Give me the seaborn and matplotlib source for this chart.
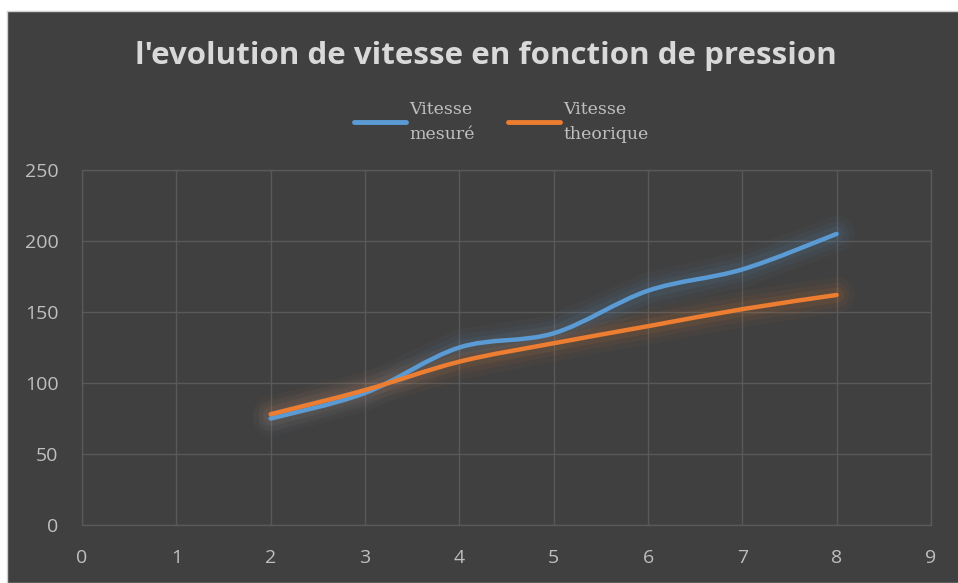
import numpy as np
import pandas as pd
import seaborn as sns
import matplotlib.pyplot as plt
from matplotlib.path import Path
from matplotlib.patches import PathPatch, Rectangle
from matplotlib.lines import Line2D

# donnees
pression = [2, 3, 4, 5, 6, 7, 8]
vitesse_mesure = [75, 93, 125, 135, 165, 180, 205]
vitesse_theorique = [78, 95, 115, 128, 140, 152, 162]

titre = "l'evolution de vitesse en fonction de pression"
noms = ["Vitesse\nmesuré", "Vitesse\ntheorique"]
couleurs = ["#5b9bd5", "#ed7d31"]

bg = "#404040"
grid_c = "#595959"
txt_c = "#bfbfbf"

sns.set_theme(style="dark")
plt.rcParams['font.family'] = ['Open Sans', 'DejaVu Sans']


def smooth_path(x, y):
    # courbe lissee facon Excel (bezier cubique, tension 1/6)
    pts = np.column_stack([x, y]).astype(float)
    n = len(pts)
    verts = [pts[0]]
    codes = [Path.MOVETO]
    for i in range(n - 1):
        p0 = pts[i - 1] if i > 0 else pts[i]
        p1 = pts[i]
        p2 = pts[i + 1]
        p3 = pts[i + 2] if i + 2 < n else pts[i + 1]
        c1 = p1 + (p2 - p0) / 6.0
        c2 = p2 - (p3 - p1) / 6.0
        verts += [c1, c2, p2]
        codes += [Path.CURVE4] * 3
    return Path(verts, codes)


df = pd.DataFrame({"pression": pression,
                   noms[0]: vitesse_mesure,
                   noms[1]: vitesse_theorique})

fig = plt.figure(figsize=(9.58, 5.83), dpi=100)
fig.patch.set_facecolor("white")
fig.patches.append(Rectangle((7 / 958, 0), 1, 1 - 11 / 583, transform=fig.transFigure,
                             facecolor=bg, edgecolor="#d0d0d0", linewidth=1, zorder=-1))

ax = fig.add_axes([82 / 958, 1 - 525 / 583, (931 - 82) / 958, (525 - 170) / 583])
ax.set_facecolor(bg)

for nom, c in zip(noms, couleurs):
    # halo
    for lw, a in [(26, 0.04), (18, 0.06), (11, 0.08)]:
        sns.lineplot(data=df, x="pression", y=nom, ax=ax, color=c, linewidth=lw,
                     alpha=a, solid_capstyle="round", legend=False)
    ax.add_patch(PathPatch(smooth_path(df["pression"], df[nom]), facecolor="none",
                           edgecolor=c, linewidth=3.2, capstyle="round", zorder=5))

ax.set_xlim(0, 9)
ax.set_ylim(0, 250)
ax.set_xticks(range(0, 10))
ax.set_yticks(range(0, 251, 50))
ax.grid(True, color=grid_c, linewidth=1)
ax.set_axisbelow(True)
for s in ax.spines.values():
    s.set_color(grid_c)
    s.set_linewidth(1)
ax.tick_params(axis="both", colors=txt_c, labelsize=14, length=0)
ax.tick_params(axis="x", pad=17)
ax.tick_params(axis="y", pad=17)
ax.set_xlabel("")
ax.set_ylabel("")

fig.text(486 / 958, 1 - 56 / 583, titre, ha="center", va="center",
         fontsize=22.5, fontweight="bold", color="#d9d9d9")

handles = [Line2D([], [], color=c, linewidth=3.5) for c in couleurs]
leg = fig.legend(handles, noms, loc="center", bbox_to_anchor=(501 / 958, 1 - 122 / 583),
                 ncol=2, frameon=False, handlelength=3.0, handletextpad=0.2, columnspacing=1.9,
                 prop={"family": "DejaVu Serif", "size": 12.5}, labelcolor=txt_c)
for t in leg.get_texts():
    t.set_linespacing(1.55)

fig.savefig("out.png", dpi=100, facecolor=fig.get_facecolor())
